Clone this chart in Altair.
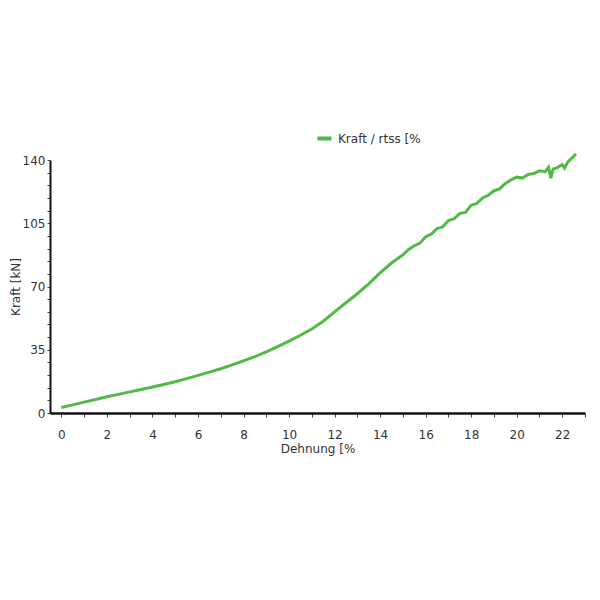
import altair as alt
import pandas as pd

dehnung = [0, 0.5, 1, 1.5, 2, 2.5, 3, 3.5, 4, 4.5, 5, 5.5, 6, 6.5, 7, 7.5, 8, 8.5, 9, 9.5,
           10, 10.5, 11, 11.5, 12, 12.5, 13, 13.5, 14, 14.5, 15, 15.25, 15.5, 15.75, 16, 16.25,
           16.5, 16.75, 17, 17.25, 17.5, 17.75, 18, 18.25, 18.5, 18.75, 19, 19.25, 19.5, 19.75,
           20, 20.25, 20.5, 20.75, 21, 21.25, 21.4, 21.5, 21.6, 21.75, 22, 22.1, 22.25, 22.5, 22.6]
kraft = [3, 4.5, 6, 7.5, 9, 10.3, 11.7, 13, 14.4, 15.8, 17.3, 19, 20.8, 22.6, 24.5, 26.6, 28.8, 31.2, 33.8, 36.7,
         39.8, 43, 46.5, 50.8, 56, 61, 66, 71.5, 77.5, 83, 87.5, 90.5, 92.5, 94, 97.5, 99,
         102, 103, 106.5, 107.5, 110.5, 111, 115, 116, 119, 120.5, 123, 124, 127, 129,
         130.5, 130, 132, 132.5, 134, 133.5, 136, 130, 135, 135.5, 137.5, 135.5, 139, 142, 143.5]
series = ["Kraft / rtss [%"] * len(dehnung)

df = pd.DataFrame({"Dehnung": dehnung, "Kraft": kraft, "Serie": series})

x_ticks = [v / 2 for v in range(0, 47)]
y_ticks = list(range(0, 141, 7))

chart = alt.Chart(df).mark_line(strokeWidth=3).encode(
    x=alt.X("Dehnung:Q", scale=alt.Scale(domain=[-0.5, 23], nice=False, zero=False),
            axis=alt.Axis(title="Dehnung [%", values=x_ticks, format="d",
                          labelExpr="datum.value % 2 == 0 ? datum.label : ''",
                          grid=False, tickSize=4, domainWidth=2.5, domainColor="#111",
                          tickColor="#444", labelPadding=12, titlePadding=3)),
    y=alt.Y("Kraft:Q", scale=alt.Scale(domain=[0, 140], nice=False),
            axis=alt.Axis(title="Kraft [kN]", values=y_ticks, format="d",
                          labelExpr="datum.value % 35 == 0 ? datum.label : ''",
                          grid=False, tickSize=3, domainWidth=2, domainColor="#111",
                          tickColor="#444", labelPadding=2, titlePadding=0)),
    color=alt.Color("Serie:N", scale=alt.Scale(range=["#52b947"]),
                    legend=alt.Legend(title=None, orient="none", legendX=265, legendY=-31,
                                      symbolType="stroke", symbolStrokeWidth=4, symbolSize=200,
                                      labelFontSize=12, labelColor="#333", labelFont="DejaVu Sans")),
).properties(
    width=535, height=253,
    autosize=alt.AutoSizeParams(type="none"),
    padding={"left": 42, "top": 152, "right": 7, "bottom": 170},
).configure_axis(
    labelFont="DejaVu Sans", titleFont="DejaVu Sans", labelFontSize=12, titleFontSize=12,
    labelColor="#333", titleColor="#333", titleFontWeight="normal"
).configure_view(stroke=None)

chart.save("out.html", embed_options={"renderer": "svg", "actions": False})
